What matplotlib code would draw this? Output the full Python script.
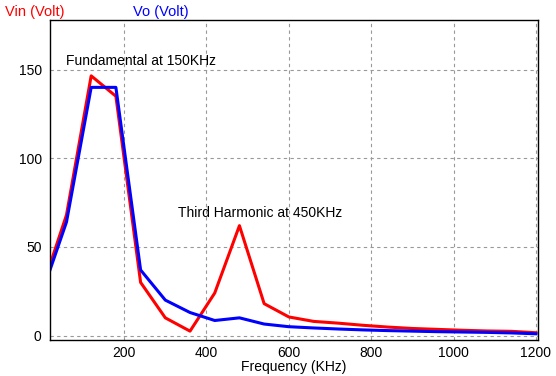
import matplotlib
matplotlib.use('Agg')
import matplotlib.pyplot as plt

plt.rcParams['font.family'] = ['Liberation Sans', 'DejaVu Sans']

freq = [20, 60, 120, 180, 240, 300, 360, 420, 480, 540, 600, 660, 720, 780,
        840, 900, 960, 1020, 1080, 1140, 1200]
vin = [40, 68, 146.5, 135, 30, 10, 2.5, 24, 62, 18, 10.5, 8, 7, 5.8,
       4.8, 4, 3.5, 3, 2.6, 2.4, 1.6]
vo = [37, 64, 140, 140, 37, 20, 13, 8.5, 10, 6.5, 5, 4.3, 3.7, 3.2,
      2.8, 2.5, 2.2, 2, 1.8, 1.5, 1]

fig = plt.figure(figsize=(5.56, 3.76), dpi=100)
ax = fig.add_axes([50/556, 1-340/376, 488/556, 320/376])

ax.plot(freq, vin, color='#ff0000', lw=2.2)
ax.plot(freq, vo, color='#0000ff', lw=2.2)

ax.set_xlim(20, 1205)
ax.set_ylim(-2.5, 178)
ax.set_xticks([200, 400, 600, 800, 1000, 1200])
ax.set_yticks([0, 50, 100, 150])
ax.tick_params(length=0, labelsize=10)
ax.tick_params(axis='x', pad=4)
ax.tick_params(axis='y', pad=6)
ax.grid(True, ls=(0, (3, 3)), color='#999999', lw=0.8)
for s in ax.spines.values():
    s.set_color('black')
    s.set_linewidth(1)

ax.set_xlabel('Frequency (KHz)', fontsize=10, labelpad=0)

ax.text(58, 155, 'Fundamental at 150KHz', fontsize=10, va='center')
ax.text(330, 69, 'Third Harmonic at 450KHz', fontsize=10, va='center')

fig.text(5/556, 1-12/376, 'Vin (Volt)', color='#ff0000', fontsize=10.5, va='center')
fig.text(133/556, 1-12/376, 'Vo (Volt)', color='#0000ff', fontsize=10.5, va='center')

fig.savefig('out.png', dpi=100)
